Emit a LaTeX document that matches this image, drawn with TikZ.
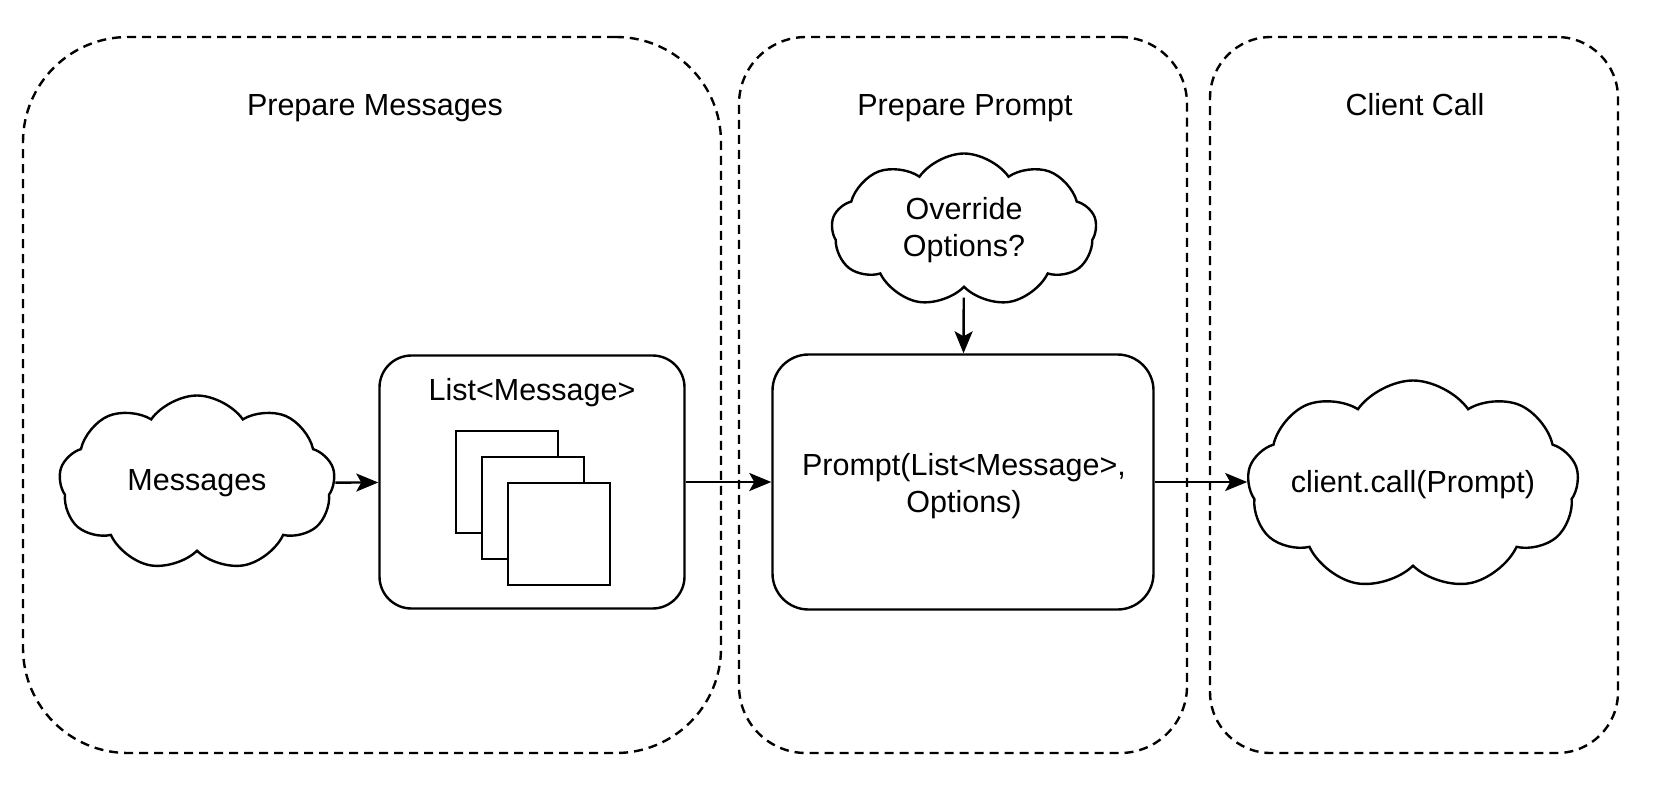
\documentclass[tikz,border=0pt]{standalone}
\usepackage{fontspec}
\setmainfont{Liberation Sans}
\usetikzlibrary{shapes.symbols,arrows.meta}

\begin{document}
\begin{tikzpicture}[x=1pt, y=-1pt, >={Stealth[length=22pt, width=18pt, inset=5pt]},
    line width=2.4pt, font=\fontsize{30.5}{37}\selectfont,
    group/.style={draw, dash pattern=on 9pt off 6pt, rectangle, inner sep=0pt},
    box/.style={draw, rectangle, rounded corners=34pt, align=center, inner sep=0pt},
    page/.style={draw, fill=white, rectangle, minimum size=102pt, inner sep=0pt},
    puff/.style={draw, cloud, cloud puffs=9, cloud puff arc=110, cloud ignores aspect, align=center, inner sep=0pt}]
  \useasboundingbox (0, 0) rectangle (1669, 788);

  % the three stages
  \node[group, minimum width=698pt, minimum height=716pt, rounded corners=105pt] (grpmsg) at (372, 395) {};
  \node[group, minimum width=448pt, minimum height=716pt, rounded corners=67pt] (grpprompt) at (963, 395) {};
  \node[group, minimum width=408pt, minimum height=716pt, rounded corners=61pt] (grpcall) at (1414, 395) {};
  \node[anchor=base] (ttlmsg) at (375, 115) {Prepare Messages};
  \node[anchor=base] (ttlprompt) at (965, 115) {Prepare Prompt};
  \node[anchor=base] (ttlcall) at (1415, 115) {Client Call};

  \node[puff, minimum width=276pt, minimum height=175pt] (msgs) at (197, 483) {Messages};

  \node[box, rounded corners=32pt, minimum width=305pt, minimum height=253pt] (list) at (532, 482) {};
  \node[anchor=base] (tlist) at (532, 400) {List<Message>};
  \foreach \i in {0, 1, 2}
    \node[page] (pg\i) at (507 + 26*\i, 482 + 26*\i) {};

  \node[box, rounded corners=36pt, minimum width=381pt, minimum height=255pt] (prompt) at (963, 482) {};
  \node[align=center] (tprompt) at (964, 486) {Prompt(List<Message>,\\Options)};
  \node[puff, minimum width=265pt, minimum height=153pt] (override) at (964, 230) {Override\\Options?};

  \node[puff, minimum width=324pt, minimum height=209pt] (call) at (1413, 485) {client.call(Prompt)};

  \draw[->] (msgs) -- (list);
  \draw[->] (list) -- (prompt);
  \draw[->, shorten <=9pt] (override) -- (prompt);
  \draw[->] (prompt.east) -- (call.west |- prompt.east);
\end{tikzpicture}
\end{document}
